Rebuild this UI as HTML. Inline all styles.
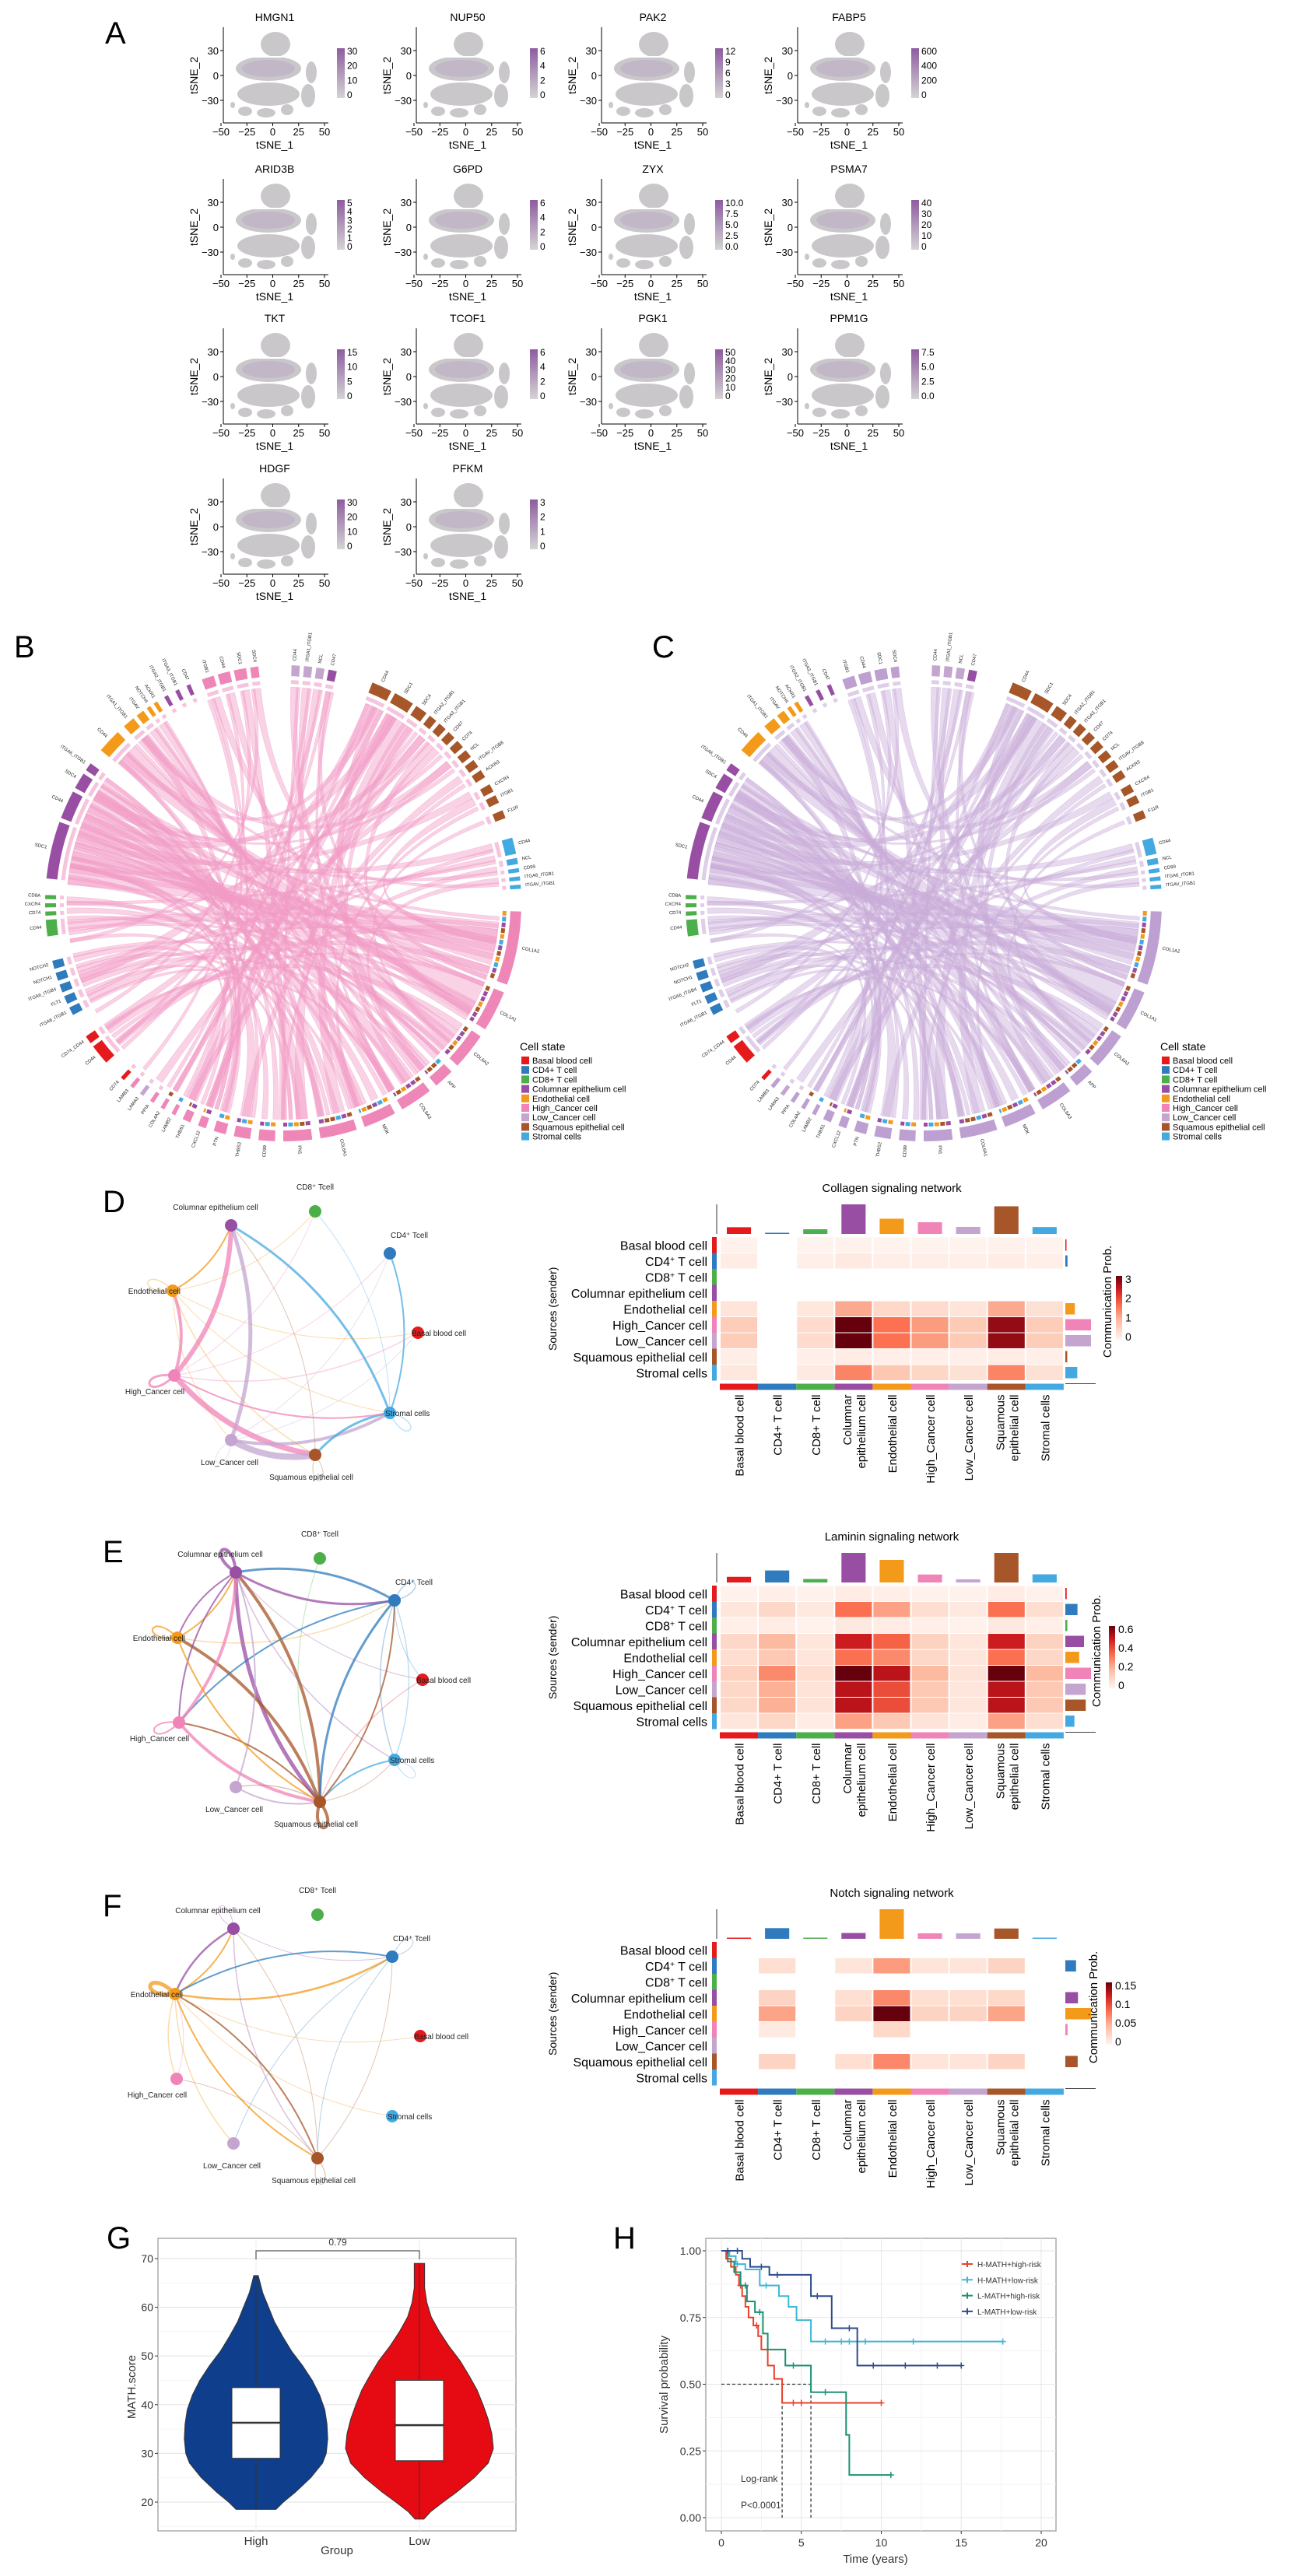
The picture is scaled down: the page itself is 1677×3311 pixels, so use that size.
<!DOCTYPE html>
<html><head><meta charset="utf-8"><title>Figure</title>
<style>
html,body{margin:0;padding:0;background:#fff;}
svg{display:block;font-family:"Liberation Sans",Arial,sans-serif;}
</style></head>
<body>
<svg id="fig" xmlns="http://www.w3.org/2000/svg" width="1677" height="3311" viewBox="0 0 1677 3311">
<rect x="0" y="0" width="1677" height="3311" fill="#fff"/>
<defs>
<linearGradient id="tsneGrad" x1="0" y1="1" x2="0" y2="0"><stop offset="0" stop-color="#d4d4d4"/><stop offset="1" stop-color="#8e5c9f"/></linearGradient>
<linearGradient id="heatGrad" x1="0" y1="1" x2="0" y2="0"><stop offset="0" stop-color="#fff5f0"/><stop offset="0.3" stop-color="#fcbba1"/><stop offset="0.55" stop-color="#fb6a4a"/><stop offset="0.8" stop-color="#cb181d"/><stop offset="1" stop-color="#67000d"/></linearGradient>
</defs>
</svg>
<script>
// ---------- data arrays ----------
const cellNames = ['Basal blood cell','CD4+ T cell','CD8+ T cell','Columnar epithelium cell','Endothelial cell','High_Cancer cell','Low_Cancer cell','Squamous epithelial cell','Stromal cells'];
const cellColors = ['#e41a1c','#2f7bbd','#4daf4a','#984ea3','#f39a1b','#f083b7','#c3a5d0','#a65628','#44a9e1'];

const geneNames = ['HMGN1','NUP50','PAK2','FABP5','ARID3B','G6PD','ZYX','PSMA7','TKT','TCOF1','PGK1','PPM1G','HDGF','PFKM'];
const geneScaleTicks = [['30','20','10','0'],['6','4','2','0'],['12','9','6','3','0'],['600','400','200','0'],['5','4','3','2','1','0'],['6','4','2','0'],['10.0','7.5','5.0','2.5','0.0'],['40','30','20','10','0'],['15','10','5','0'],['6','4','2','0'],['50','40','30','20','10','0'],['7.5','5.0','2.5','0.0'],['30','20','10','0'],['3','2','1','0']];

const collagenMat = [
 [0.05,0,0.03,0.05,0.03,0.03,0.03,0.05,0.03],
 [0.15,0,0.1,0.2,0.12,0.12,0.1,0.15,0.1],
 [0,0,0,0,0,0,0,0,0],
 [0,0,0,0,0,0,0,0,0],
 [0.3,0,0.25,1.2,0.5,0.45,0.3,1.2,0.35],
 [0.7,0,0.45,3.4,1.8,1.35,0.75,3.1,0.7],
 [0.7,0,0.45,3.4,1.8,1.35,0.75,3.1,0.7],
 [0.12,0,0.1,0.15,0.1,0.1,0.1,0.15,0.1],
 [0.25,0,0.2,1.6,0.8,0.55,0.35,1.6,0.35]];
const lamininMat = [
 [0.01,0.02,0.01,0.03,0.02,0.01,0.01,0.03,0.01],
 [0.05,0.1,0.04,0.35,0.25,0.08,0.04,0.35,0.08],
 [0.02,0.03,0.01,0.04,0.03,0.02,0.01,0.04,0.02],
 [0.1,0.2,0.05,0.52,0.38,0.12,0.05,0.52,0.12],
 [0.08,0.15,0.05,0.35,0.3,0.1,0.05,0.35,0.1],
 [0.12,0.3,0.08,0.66,0.55,0.2,0.06,0.66,0.2],
 [0.1,0.22,0.06,0.55,0.42,0.15,0.05,0.55,0.15],
 [0.1,0.22,0.06,0.55,0.42,0.15,0.05,0.55,0.15],
 [0.05,0.1,0.03,0.25,0.15,0.06,0.03,0.25,0.08]];
const notchMat = [
 [0,0,0,0,0,0,0,0,0],
 [0,0.02,0,0.015,0.07,0.015,0.015,0.03,0],
 [0,0,0,0,0,0,0,0,0],
 [0,0.03,0,0.02,0.08,0.02,0.02,0.025,0],
 [0,0.065,0,0.03,0.175,0.03,0.03,0.065,0],
 [0,0.01,0,0,0.025,0,0,0,0],
 [0,0,0,0,0,0,0,0,0],
 [0,0.03,0,0.02,0.08,0.015,0.015,0.03,0],
 [0,0,0,0,0,0,0,0,0]];
const collagenTicks = ['3','2','1','0'];
const lamininTicks = ['0.6','0.4','0.2','0'];
const notchTicks = ['0.15','0.1','0.05','0'];

const collagenEdges = [[5,3,6],[5,7,7],[5,4,4],[5,5,3],[6,3,5],[6,7,8],[6,8,4],[8,3,3],[8,7,3],[8,8,1.5],[4,3,2],[4,7,1.5],[4,4,1.5],[8,1,2],[4,0,1],[5,0,1.5],[6,0,1],[4,8,1],[5,8,2],[6,6,1],[7,7,1],[4,2,1],[5,2,1],[6,1,1],[5,1,1],[8,2,1],[7,3,1],[4,6,1]];
const lamininEdges = [[3,7,5],[3,3,4],[3,1,3],[7,3,4],[7,4,4],[7,7,4],[1,7,3],[1,3,3],[1,5,2],[5,3,4],[5,7,4],[4,3,2],[4,1,1.5],[4,4,2],[5,5,2],[6,3,2],[6,7,2],[8,7,2],[8,1,1.5],[1,1,1.5],[1,8,1.5],[3,8,1.5],[7,1,2],[7,5,2],[7,6,1.5],[3,5,2],[3,4,2],[4,7,2],[0,7,1],[2,7,1],[1,0,1],[3,0,1],[7,8,1],[8,8,1]];
const notchEdges = [[4,4,5],[4,1,2.5],[4,7,2],[4,3,2],[1,4,2],[3,4,2.5],[7,4,2],[4,5,1.5],[4,6,1.5],[3,7,1.5],[7,3,1],[1,7,1],[3,1,1],[7,1,1],[5,4,1],[4,0,1],[3,3,1],[7,7,1.2],[1,1,1],[7,5,1],[1,6,1],[4,8,1]];

const chordSectors = [
 [340,343,5,'ITGB1'],[344,347,5,'CD44'],[348,351,5,'SDC1'],[352,354,5,'SDC4'],[2,4,6,'CD44'],[5,7,6,'ITGA1_ITGB1'],[8,10,6,'NCL'],[11,13,3,'CD47'],
 [22,27,7,'CD44'],[28,33,7,'SDC1'],[34,37,7,'SDC4'],[38,40,7,'ITGA2_ITGB1'],[41,43,7,'ITGA3_ITGB1'],[44,46,7,'CD47'],[47,49,7,'CD74'],[50,52,7,'NCL'],[53,55,7,'ITGAV_ITGB8'],[56,58,7,'ACKR3'],[60,62,7,'CXCR4'],[63,65,7,'ITGB1'],[67,69,7,'F11R'],
 [74,78,8,'CD44'],[79,80.5,8,'NCL'],[81.5,82.5,8,'CD99'],[83.5,84.5,8,'ITGA6_ITGB1'],[85.5,86.5,8,'ITGAV_ITGB1'],
 [92,110,5,'COL1A2'],[112,122,5,'COL1A1'],[124,133,5,'COL6A2'],[135,140,5,'APP'],[142,150,5,'COL6A3'],[152,160,5,'MDK'],[162,171,5,'COL6A1'],[173,180,5,'FN1'],[182,186,5,'CD99'],[188,192,5,'THBS2'],[194,197,5,'PTN'],[199,201,5,'CXCL12'],[203,205,5,'THBS1'],[207,208,5,'LAMB2'],[210,211,5,'COL4A2'],[213,214,5,'PPIA'],[216,217,6,'LAMA3'],[219,220,5,'LAMB3'],[222,223,0,'CD74'],
 [228,233,0,'CD44'],[234,236,0,'CD74_CD44'],
 [242,244,1,'ITGA6_ITGB1'],[245,247,1,'FLT1'],[248,250,1,'ITGA6_ITGB4'],[251,253,1,'NOTCH1'],[254,256,1,'NOTCH2'],
 [262,266,2,'CD44'],[267,268,2,'CD74'],[269,270,2,'CXCR4'],[271,272,2,'CD8A'],
 [276,290,3,'SDC1'],[291,298,3,'CD44'],[299,303,3,'SDC4'],[304,306,3,'ITGA6_ITGB1'],
 [310,316,4,'CD44'],[318,321,4,'ITGA1_ITGB1'],[322,324,4,'ITGAV'],[325,326,4,'NOTCH4'],[327,328,4,'ACKR1'],
 [330,331,3,'ITGA2_ITGB1'],[333,334,3,'ITGA3_ITGB1'],[336,337,3,'CD47']];
const chordLinks = [
 [278,100,6],[284,115,5],[290,128,4],[295,145,4],[300,160,3],[304,175,3],[281,190,3],[287,60,2],[293,30,3],[298,40,2],
 [312,105,3],[315,120,3],[319,135,2],[323,150,2],[326,170,2],[313,25,2],[320,50,2],
 [24,250,3],[30,205,3],[35,165,3],[40,200,2],[45,215,2],[50,235,2],[26,140,3],[33,175,3],[55,190,2],[62,100,2],
 [342,120,2],[346,150,2],[350,180,2],[353,100,2],[3,130,2],[6,160,2],[9,200,2],[12,110,1.5],
 [230,98,2],[234,125,2],[244,108,2],[248,140,1.5],[252,170,1.5],[255,195,1.5],[264,104,2],[268,150,1.5],[271,185,1.5],
 [75,290,2],[78,250,1.5],[81,205,1.5],[84,140,1.5],[196,300,2],[205,320,2],[210,30,1.5],
 [283,96,2],[296,108,2],[302,118,2],[276,132,2],[288,155,2],[292,166,2],[265,96,1],[311,182,1.5],[36,145,2],[43,120,2],
 [279,102,1.5],[282,112,1.2],[286,122,1.2],[289,138,1.2],[294,152,1.2],[297,170,1.2],[301,188,1],[305,198,1],
 [277,176,1.2],[280,158,1.2],[285,146,1],[291,134,1],[299,110,1],[303,94,1],
 [314,112,1],[317,128,1],[321,142,1],[324,160,1],[327,178,1],[311,196,1],
 [23,200,1.2],[27,210,1.2],[31,228,1],[38,245,1],[42,262,1],[47,280,1],[52,300,1],[57,180,1],[64,160,1],[68,130,1],
 [341,200,1],[345,220,1],[349,240,1],[352,260,1],[4,180,1],[7,210,1],[10,230,1],[13,150,1],
 [232,112,1],[235,150,1],[243,162,1],[246,178,1],[249,120,1],[253,100,1],[256,132,1],[263,118,1],[266,168,1],[270,134,1],
 [76,230,1],[79,270,1],[82,300,1],[85,320,1],[198,280,1],[202,260,1],[207,340,1],[212,12,1]];

const violinHighY = [18.5,20,22,25,28,30,33,36,39,42,45,48,51,54,57,60,63,66.5];
const violinHighD = [0.27,0.37,0.53,0.74,0.9,0.95,0.97,0.96,0.93,0.86,0.76,0.63,0.48,0.36,0.25,0.17,0.09,0.03];
const violinLowY = [16.5,18,20,22,25,28,31,34,37,40,43,46,49,52,55,58,61,64,67,69];
const violinLowD = [0.06,0.15,0.32,0.5,0.74,0.93,1.0,0.98,0.93,0.86,0.78,0.67,0.55,0.4,0.27,0.16,0.1,0.07,0.07,0.07];
const boxHigh = [29,36.3,43.5];
const boxLow = [28.5,35.8,45];
const violinGroups = ['High','Low'];

const kmNames = ['H-MATH+high-risk','H-MATH+low-risk','L-MATH+high-risk','L-MATH+low-risk'];
const kmColors = ['#e8412c','#3db7d6','#1b9274','#2f4b8a'];
const kmTimes = [
 [0,0.3,0.6,0.9,1.1,1.3,1.5,1.7,2.0,2.3,2.5,2.9,3.3,3.8],
 [0,0.5,0.9,1.5,2.4,3.6,4.2,4.7,5.6],
 [0,0.4,0.8,1.2,1.6,2.1,2.6,2.9,4.0,5.6,7.8,8.0],
 [0,1.3,1.8,3.0,5.6,6.9,8.5]];
const kmSurv = [
 [1,0.97,0.94,0.91,0.87,0.83,0.79,0.75,0.72,0.68,0.63,0.57,0.52,0.43],
 [1,0.98,0.95,0.93,0.87,0.83,0.79,0.74,0.66],
 [1,0.96,0.92,0.87,0.81,0.77,0.69,0.63,0.57,0.47,0.31,0.16],
 [1,0.97,0.94,0.91,0.83,0.71,0.57]];
const kmEnd = [10,17.6,10.6,15];
const kmCensor = [[1.2,2.2,4.5,5,10],[1.0,2.8,6.5,7.5,8,9,12,17.6],[1.5,2.4,4.5,6.5,10.6],[0.4,1,2.5,3.5,6,8,9.5,11.5,13.5,15]];
const kmMedians = [3.8,5.6];

// ---------- helpers ----------
const NS = 'http://www.w3.org/2000/svg';
const svg = document.getElementById('fig');
function el(tag, attrs, parent, name, inter) {
  const e = document.createElementNS(NS, tag);
  for (const k in attrs) e.setAttribute(k, attrs[k]);
  
  
  (parent || svg).appendChild(e);
  return e;
}
function grp(name, parent) { return el('g', {}, parent, name, false); }
function text(x, y, s, size, extra, parent, name) {
  const a = Object.assign({x: x, y: y, 'font-size': size, fill: '#000'}, extra || {});
  const t = el('text', a, parent, name, false);
  t.textContent = s;
  return t;
}
function line(x1,y1,x2,y2,stroke,w,parent,name,extra){
  return el('line', Object.assign({x1:x1,y1:y1,x2:x2,y2:y2,stroke:stroke,'stroke-width':w}, extra||{}), parent, name, false);
}
function hexToRgb(h){return [parseInt(h.slice(1,3),16),parseInt(h.slice(3,5),16),parseInt(h.slice(5,7),16)];}
const heatStops = [[0,'#fff5f0'],[0.3,'#fcbba1'],[0.55,'#fb6a4a'],[0.8,'#cb181d'],[1,'#67000d']];
function heatColor(v){
  v = Math.max(0, Math.min(1, v));
  for (let i=1;i<heatStops.length;i++){
    if (v <= heatStops[i][0]){
      const a=heatStops[i-1], b=heatStops[i];
      const t=(v-a[0])/(b[0]-a[0]);
      const ca=hexToRgb(a[1]), cb=hexToRgb(b[1]);
      return 'rgb('+ca.map((c,j)=>Math.round(c+(cb[j]-c)*t)).join(',')+')';
    }
  }
  return heatStops[heatStops.length-1][1];
}

// ---------- Panel A ----------
const gA = grp('panel-a');
text(135, 56, 'A', 40, {}, gA, 'panel-label-a');
const colX = [287, 535, 773, 1025];
const rowTop = [35, 230, 422, 615];
const blobShapes = [[67,22,19,16],[58,53,42,16],[58,86,40,15],[113,58,7,14],[109,88,9,15],[28,108,9,6],[55,110,12,6],[82,106,8,7],[12,100,3,4]];
function tsnePlot(idx){
  const cx = colX[idx % 4], top = rowTop[Math.floor(idx/4)];
  const g = grp('tsne-plot-' + geneNames[idx].toLowerCase(), gA);
  const sx = v => cx - 3 + (v + 50) * 1.33;
  const sy = v => top + 62 - v * 1.067;
  blobShapes.forEach(b=>{
    el('ellipse',{cx:cx+b[0],cy:top+b[1],rx:b[2],ry:b[3],fill:'#c9c7ca'},g,'cell-cluster',false);
  });
  el('rect',{x:cx+10,y:top+37,width:100,height:2,fill:'#fff'},g,'cluster-gap',false);
  el('rect',{x:cx+10,y:top+69.5,width:100,height:1.5,fill:'#fff'},g,'cluster-gap',false);
  el('ellipse',{cx:cx+58,cy:top+53,rx:34,ry:11,fill:'#c1b3c6',opacity:0.8},g,'expression-hotspot',false);
  line(cx, top, cx, top+123, '#000', 1, g, 'y-axis-line');
  line(cx, top+123, cx+135, top+123, '#000', 1, g, 'x-axis-line');
  [-50,-25,0,25,50].forEach(v=>{
    line(sx(v), top+123, sx(v), top+127, '#000', 1, g, 'x-tick');
    text(sx(v), top+139, v<0 ? '\u2212'+(-v) : String(v), 13, {'text-anchor':'middle'}, g, 'x-tick-label');
  });
  [30,0,-30].forEach(v=>{
    line(cx-4, sy(v), cx, sy(v), '#000', 1, g, 'y-tick');
    text(cx-6, sy(v)+5, v<0 ? '\u2212'+(-v) : String(v), 13, {'text-anchor':'end'}, g, 'y-tick-label');
  });
  text(cx+66, top+156, 'tSNE_1', 14, {'text-anchor':'middle'}, g, 'x-axis-title');
  text(0, 0, 'tSNE_2', 14, {'text-anchor':'middle', transform:'translate('+(cx-33)+','+(top+62)+') rotate(-90)'}, g, 'y-axis-title');
  text(cx+66, top-8, geneNames[idx], 14, {'text-anchor':'middle'}, g, 'plot-title');
  const cbx = cx + 146, cbt = top + 27, cbh = 64;
  el('rect',{x:cbx,y:cbt,width:10,height:cbh,fill:'url(#tsneGrad)'},g,'colorbar',false);
  const ticks = geneScaleTicks[idx];
  ticks.forEach((t,i)=>{
    const y = cbt + 4 + i*(cbh-8)/(ticks.length-1);
    text(cbx+13, y+4, t, 12, {}, g, 'colorbar-label');
  });
}
for (let i=0;i<geneNames.length;i++) tsnePlot(i);

// ---------- Panels B & C ----------
function chord(prefix, cx, cy, mainColor, recvColor, letter, lx){
  const g = grp('panel-' + prefix);
  text(lx, 845, letter, 40, {}, g, 'panel-label-' + prefix);
  const rad = d => (d - 90) * Math.PI / 180;
  const pt = (d, r) => [cx + r*Math.cos(rad(d)), cy + r*Math.sin(rad(d))];
  const R = 278;
  const gl = grp('chord-links', g);
  chordLinks.forEach(l=>{
    const a1=l[0]-l[2]/2, a2=l[0]+l[2]/2, b1=l[1]-l[2]/2, b2=l[1]+l[2]/2;
    const p1=pt(a1,R), p2=pt(a2,R), q1=pt(b1,R), q2=pt(b2,R);
    const d = 'M'+p1+' A'+R+','+R+' 0 0 1 '+p2+' Q'+cx+','+cy+' '+q1+' A'+R+','+R+' 0 0 1 '+q2+' Q'+cx+','+cy+' '+p1+'Z';
    el('path',{d:d,fill:mainColor,'fill-opacity':0.45,stroke:mainColor,'stroke-opacity':0.5,'stroke-width':0.6},gl,'chord-link',false);
  });
  const arc = (s,e,r1,r2)=>{
    const a=pt(s,r2), b=pt(e,r2), c=pt(e,r1), d=pt(s,r1);
    const large = (e-s)>180?1:0;
    return 'M'+a+' A'+r2+','+r2+' 0 '+large+' 1 '+b+' L'+c+' A'+r1+','+r1+' 0 '+large+' 0 '+d+'Z';
  };
  const gs = grp('chord-sectors', g);
  chordSectors.forEach(s=>{
    let col = cellColors[s[2]];
    if (s[2]===5) col = recvColor;
    el('path',{d:arc(s[0],s[1],292,306),fill:col},gs,'sector-' + s[3].toLowerCase(),false);
    if (s[0]>=92 && s[1]<=212) {
      for (let a=s[0]; a<s[1]; a+=1.5) {
        el('path',{d:arc(a,Math.min(a+1.2,s[1]),282,287),fill:cellColors[[7,3,4,8,7,3][Math.floor(a)%6]]},gs,'inner-stripe',false);
      }
    } else {
      el('path',{d:arc(s[0],s[1],282,287),fill:mainColor,opacity:0.6},gs,'inner-stripe',false);
    }
    const m=(s[0]+s[1])/2, p=pt(m,312);
    let rot = m-90, anchor='start';
    if (m>180) { rot = m+90; anchor='end'; }
    text(p[0], p[1], s[3], 6, {'text-anchor':anchor, transform:'rotate('+rot+' '+p[0]+' '+p[1]+')', fill:'#222'}, gs, 'sector-label');
  });
  const lgx = cx + 304, lgy = 1350;
  const gg = grp('legend', g);
  text(lgx, lgy, 'Cell state', 14, {}, gg, 'legend-title');
  cellNames.forEach((n,i)=>{
    el('rect',{x:lgx+2,y:lgy+8+i*12.2,width:10,height:10,fill:cellColors[i]},gg,'legend-swatch',false);
    text(lgx+16, lgy+17+i*12.2, n, 11, {}, gg, 'legend-entry');
  });
}
chord('b', 364, 1161, '#f19cc6', '#ef86b8', 'B', 18);
chord('c', 1187, 1161, '#c9add9', '#bda0d1', 'C', 838);

// ---------- Networks ----------
const nodeBase = [[543,2159],[507,2057],[411,2003],[303,2021],[228,2105],[230,2214],[303,2297],[411,2316],[507,2262]];
const nodeLabels = ['Basal blood cell','CD4\u207A Tcell','CD8\u207A Tcell','Columnar epithelium cell','Endothelial cell','High_Cancer cell','Low_Cancer cell','Squamous epithelial cell','Stromal cells'];
const nodeLabelOff = [[-8,4,'start'],[25,-20,'middle'],[0,-28,'middle'],[-20,-20,'middle'],[10,4,'end'],[-25,24,'middle'],[-2,32,'middle'],[-5,32,'middle'],[-6,4,'start']];
function network(prefix, dx, dy, edges){
  const g = grp('network-' + prefix);
  const P = nodeBase.map(p=>[p[0]+dx, p[1]+dy]);
  const C = [385+dx, 2160+dy];
  edges.forEach(e=>{
    const a=P[e[0]], b=P[e[1]], col=cellColors[e[0]];
    let d;
    if (e[0]===e[1]) {
      const vx=a[0]-C[0], vy=a[1]-C[1], L=Math.hypot(vx,vy), ux=vx/L, uy=vy/L;
      const s=45, px=-uy, py=ux;
      d='M'+a[0]+','+a[1]+' C'+(a[0]+ux*s+px*22)+','+(a[1]+uy*s+py*22)+' '+(a[0]+ux*s-px*22)+','+(a[1]+uy*s-py*22)+' '+a[0]+','+a[1];
    } else {
      const mx=(a[0]+b[0])/2, my=(a[1]+b[1])/2;
      const vx=b[0]-a[0], vy=b[1]-a[1];
      const qx=mx-vy*0.18, qy=my+vx*0.18;
      d='M'+a[0]+','+a[1]+' Q'+qx+','+qy+' '+b[0]+','+b[1];
    }
    el('path',{d:d,fill:'none',stroke:col,'stroke-width':e[2],'stroke-opacity':e[2]>1.6?0.75:0.35},g,'edge-'+prefix,false);
  });
  P.forEach((p,i)=>{
    el('circle',{cx:p[0],cy:p[1],r:8,fill:cellColors[i]},g,'node-'+cellNames[i].toLowerCase().replace(/[^a-z0-9]+/g,'-'),true);
    const o=nodeLabelOff[i];
    text(p[0]+o[0], p[1]+o[1], nodeLabels[i], 10, {'text-anchor':o[2], fill:'#222'}, g, 'node-label');
  });
}

function heatmap(prefix, top, title, mat, maxv, ticks, cbX, cbTop, cbBot, commX){
  const g = grp('heatmap-' + prefix);
  const x0=925, cw=49.1, rh=20.5;
  const rowSum = mat.map(r=>r.reduce((s,v)=>s+v,0));
  const colSum = mat[0].map((_,j)=>mat.reduce((s,r)=>s+r[j],0));
  const maxCol = Math.max(...colSum), maxRow = Math.max(...rowSum);
  text(1146, top-58, title, 15, {'text-anchor':'middle'}, g, 'heatmap-title');
  line(921, top-42, 921, top-4, '#000', 0.8, g, 'top-bar-axis');
  colSum.forEach((v,j)=>{
    const h = Math.max(1.5, v/maxCol*38);
    el('rect',{x:x0+j*cw+9,y:top-4-h,width:cw-18,height:h,fill:cellColors[j]},g,'top-bar',false);
  });
  mat.forEach((r,i)=>{
    const y = top + i*rh;
    el('rect',{x:915,y:y,width:6,height:rh,fill:cellColors[i]},g,'row-color-strip',false);
    const lbl = text(909, y+rh/2+6, '', 16, {'text-anchor':'end'}, g, 'row-label');
    const nm = cellNames[i];
    if (nm.indexOf('+')>0) {
      lbl.textContent = nm.slice(0,3);
      const sp = document.createElementNS(NS,'tspan');
      sp.setAttribute('baseline-shift','super');
      sp.setAttribute('font-size','10');
      
      
      sp.textContent='+';
      lbl.appendChild(sp);
      const sp2 = document.createElementNS(NS,'tspan');
      
      
      sp2.textContent=' T cell';
      lbl.appendChild(sp2);
    } else lbl.textContent = nm;
    r.forEach((v,j)=>{
      if (v<=0) return;
      el('rect',{x:x0+j*cw+1,y:y+0.5,width:cw-2,height:rh-1,fill:heatColor(v/maxv)},g,'heat-cell',false);
    });
    const w = rowSum[i]/maxRow*33;
    if (w>0) el('rect',{x:1369,y:y+3,width:Math.max(1.5,w),height:rh-6,fill:cellColors[i]},g,'right-bar',false);
  });
  const bot = top + 9*rh;
  line(1369, bot+4, 1408, bot+4, '#000', 0.8, g, 'right-bar-axis');
  const colLab = [['Basal blood cell'],['CD4+ T cell'],['CD8+ T cell'],['Columnar','epithelium cell'],['Endothelial cell'],['High_Cancer cell'],['Low_Cancer cell'],['Squamous','epithelial cell'],['Stromal cells']];
  colLab.forEach((L,j)=>{
    el('rect',{x:x0+j*cw,y:bot+4,width:cw,height:8,fill:cellColors[j]},g,'column-color-strip',false);
    const cxp = x0+j*cw+cw/2;
    L.forEach((s,k)=>{
      const xx = cxp + 6 + (L.length===2 ? (k===0?-9:9) : 0);
      text(xx, bot+18, s, 15, {'text-anchor':'end', transform:'rotate(-90 '+xx+' '+(bot+18)+')'}, g, 'column-label');
    });
  });
  text(0,0,'Sources (sender)',14,{'text-anchor':'middle',transform:'translate(715,'+(top+4.5*rh)+') rotate(-90)'},g,'y-axis-title');
  el('rect',{x:cbX,y:cbTop,width:8,height:cbBot-cbTop,fill:'url(#heatGrad)'},g,'colorbar',false);
  ticks.forEach((t,i)=>{
    const y = cbTop + 4 + i*(cbBot-cbTop-8)/(ticks.length-1);
    text(cbX+12, y+5, t, 14, {}, g, 'colorbar-label');
  });
  text(0,0,'Communication Prob.',15,{'text-anchor':'middle',transform:'translate('+commX+','+((cbTop+cbBot)/2-8)+') rotate(-90)'},g,'colorbar-title');
}

text(132, 1558, 'D', 40, {}, svg, 'panel-label-d');
network('d', -6, -446, collagenEdges);
heatmap('collagen', 1590, 'Collagen signaling network', collagenMat, 3.4, collagenTicks, 1434, 1640, 1722, 1428);
text(132, 2008, 'E', 40, {}, svg, 'panel-label-e');
network('e', 0, 0, lamininEdges);
heatmap('laminin', 2038, 'Laminin signaling network', lamininMat, 0.66, lamininTicks, 1425, 2090, 2170, 1414);
text(132, 2463, 'F', 40, {}, svg, 'panel-label-f');
network('f', -3, 458, notchEdges);
heatmap('notch', 2496, 'Notch signaling network', notchMat, 0.175, notchTicks, 1421, 2548, 2628, 1410);

// ---------- Panel G ----------
const gG = grp('panel-g');
text(137, 2890, 'G', 40, {}, gG, 'panel-label-g');
const gx0=203, gx1=663, gy0=2877, gy1=3253;
const ySc = v => 3216 - (v-20)*6.26;
const xSc = i => [329,539][i];
el('rect',{x:gx0,y:gy0,width:gx1-gx0,height:gy1-gy0,fill:'#fff',stroke:'#aaa','stroke-width':1.5},gG,'plot-area',false);
for (let v=15; v<=70; v+=5) line(gx0, ySc(v), gx1, ySc(v), v%10===0?'#e6e6e6':'#f2f2f2', v%10===0?1.2:0.8, gG, 'grid-line');
[0,1].forEach(i=>line(xSc(i), gy0, xSc(i), gy1, '#ececec', 1, gG, 'grid-line'));
[20,30,40,50,60,70].forEach(v=>{
  line(gx0-4, ySc(v), gx0, ySc(v), '#333', 1, gG, 'y-tick');
  text(gx0-6, ySc(v)+5, String(v), 14, {'text-anchor':'end', fill:'#333'}, gG, 'y-tick-label');
});
function violin(i, Y, D, box, col){
  const cx = xSc(i), s = 95;
  let d = 'M';
  Y.forEach((y,k)=>{ d += (cx + D[k]*s) + ',' + ySc(y) + ' L'; });
  for (let k=Y.length-1;k>=0;k--) d += (cx - D[k]*s) + ',' + ySc(Y[k]) + (k>0?' L':'');
  d += 'Z';
  el('path',{d:d,fill:col,stroke:'#333','stroke-width':1},gG,'violin-'+violinGroups[i].toLowerCase(),false);
  line(cx, ySc(Y[0]), cx, ySc(Y[Y.length-1]), '#333', 1, gG, 'whisker');
  el('rect',{x:cx-31,y:ySc(box[2]),width:62,height:ySc(box[0])-ySc(box[2]),fill:'#fff',stroke:'#333','stroke-width':1},gG,'box-'+violinGroups[i].toLowerCase(),false);
  line(cx-31, ySc(box[1]), cx+31, ySc(box[1]), '#333', 2.5, gG, 'median-line');
  text(cx, 3271, violinGroups[i], 15, {'text-anchor':'middle', fill:'#333'}, gG, 'x-tick-label');
}
violin(0, violinHighY, violinHighD, boxHigh, '#0f3f8c');
violin(1, violinLowY, violinLowD, boxLow, '#e60b12');
el('path',{d:'M329,2904 V2893 H539 V2904',fill:'none',stroke:'#555','stroke-width':1.2},gG,'significance-bracket',false);
text(434, 2886, '0.79', 12, {'text-anchor':'middle', fill:'#333'}, gG, 'p-value-label');
text(433, 3283, 'Group', 15, {'text-anchor':'middle', fill:'#333'}, gG, 'x-axis-title');
text(0,0,'MATH.score',15,{'text-anchor':'middle',transform:'translate(174,3068) rotate(-90)', fill:'#333'},gG,'y-axis-title');

// ---------- Panel H ----------
const gH = grp('panel-h');
text(788, 2890, 'H', 40, {}, gH, 'panel-label-h');
const hx0=907, hx1=1357, hy0=2877, hy1=3253;
const tX = t => 927 + t*20.55;
const sY = s => 3236 - s*343;
el('rect',{x:hx0,y:hy0,width:hx1-hx0,height:hy1-hy0,fill:'#fff',stroke:'#aaa','stroke-width':1.5},gH,'plot-area',false);
for (let t=0;t<=20;t+=2.5) line(tX(t), hy0, tX(t), hy1, t%5===0?'#e6e6e6':'#f3f3f3', 1, gH, 'grid-line');
for (let s=0;s<=1.0001;s+=0.125) line(hx0, sY(s), hx1, sY(s), (Math.round(s*8)%2===0)?'#e6e6e6':'#f3f3f3', 1, gH, 'grid-line');
[0,5,10,15,20].forEach(t=>{
  line(tX(t), hy1, tX(t), hy1+4, '#333', 1, gH, 'x-tick');
  text(tX(t), hy1+20, String(t), 14, {'text-anchor':'middle', fill:'#333'}, gH, 'x-tick-label');
});
['0.00','0.25','0.50','0.75','1.00'].forEach((s,i)=>{
  line(hx0-4, sY(i*0.25), hx0, sY(i*0.25), '#333', 1, gH, 'y-tick');
  text(hx0-6, sY(i*0.25)+5, s, 14, {'text-anchor':'end', fill:'#333'}, gH, 'y-tick-label');
});
line(tX(0), sY(0.5), tX(kmMedians[1]), sY(0.5), '#333', 1.3, gH, 'median-dashed-line', {'stroke-dasharray':'4,3'});
kmMedians.forEach(m=>line(tX(m), sY(0.5), tX(m), sY(0), '#333', 1.3, gH, 'median-dashed-line', {'stroke-dasharray':'4,3'}));
kmTimes.forEach((T,k)=>{
  const S = kmSurv[k];
  let d = 'M'+tX(T[0])+','+sY(S[0]);
  for (let i=1;i<T.length;i++) d += ' H'+tX(T[i])+' V'+sY(S[i]);
  d += ' H'+tX(kmEnd[k]);
  el('path',{d:d,fill:'none',stroke:kmColors[k],'stroke-width':2},gH,'km-curve-'+k,false);
  kmCensor[k].forEach(c=>{
    let s = S[0];
    for (let i=0;i<T.length;i++) if (T[i]<=c) s=S[i];
    el('path',{d:'M'+(tX(c)-4)+','+sY(s)+' h8 M'+tX(c)+','+(sY(s)-4)+' v8',stroke:kmColors[k],'stroke-width':1.5},gH,'censor-mark',false);
  });
  el('path',{d:'M1236,'+(2910+k*20.3)+' h14 M1243,'+(2906+k*20.3)+' v8',stroke:kmColors[k],'stroke-width':2},gH,'legend-key',false);
  text(1256, 2914+k*20.3, kmNames[k], 10, {fill:'#333'}, gH, 'legend-entry');
});
text(952, 3190, 'Log-rank', 12, {fill:'#333'}, gH, 'log-rank-label');
text(952, 3224, 'P<0.0001', 12, {fill:'#333'}, gH, 'p-value-label');
text(1125, 3294, 'Time (years)', 15, {'text-anchor':'middle', fill:'#333'}, gH, 'x-axis-title');
text(0,0,'Survival probability',15,{'text-anchor':'middle',transform:'translate(858,3065) rotate(-90)', fill:'#333'},gH,'y-axis-title');
</script>
</body></html>
